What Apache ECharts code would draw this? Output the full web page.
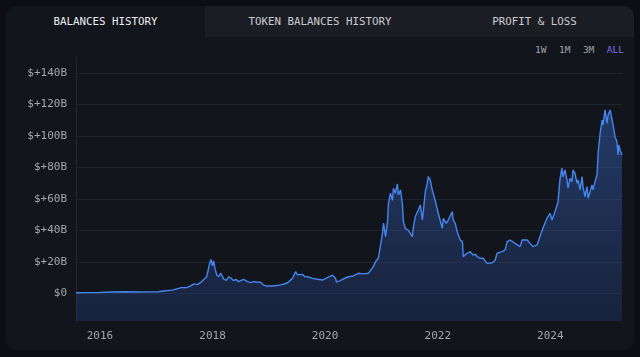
<!DOCTYPE html>
<html>
<head>
<meta charset="utf-8">
<script src="https://cdn.jsdelivr.net/npm/echarts@6/dist/echarts.min.js"></script>
<style>
  html, body { margin:0; padding:0; width:640px; height:357px; background:#0c0e14; overflow:hidden; }
  #card { position:absolute; left:6px; top:6px; width:628px; height:344px; background:#13151c; border-radius:10px; overflow:hidden; }
  .tabs { position:absolute; left:0; top:0; width:628px; height:31px; display:flex; }
  .tab { height:31px; line-height:31px; text-align:center; font-family:"DejaVu Sans Mono", monospace; font-size:10.8px; color:#c9cbd0; background:#1b1d23; }
  .tab.active { background:#13151c; color:#eceef1; }
  .ranges { position:absolute; top:38px; right:10px; font-family:"DejaVu Sans Mono", monospace; font-size:9.5px; color:#a0a2aa; }
  .ranges span { margin-left:12.5px; }
  .ranges span.on { color:#7d6ff0; }
  #chart { position:absolute; left:0; top:0; width:640px; height:357px; }
</style>
</head>
<body>
<div id="card">
  <div class="tabs">
    <div class="tab active" style="width:199px">BALANCES HISTORY</div>
    <div class="tab" style="width:230px">TOKEN BALANCES HISTORY</div>
    <div class="tab" style="width:199px">PROFIT &amp; LOSS</div>
  </div>
  <div class="ranges"><span>1W</span><span>1M</span><span>3M</span><span class="on">ALL</span></div>
</div>
<div id="chart"></div>
<script>
// ---- data (values in billions USD) ----
const dates = [
 '2015-07-30','2015-10-01','2016-01-01','2016-03-15','2016-06-15','2016-09-01','2016-11-25','2017-01-15','2017-03-03','2017-04-15',
 '2017-05-14','2017-06-12','2017-07-17','2017-08-10','2017-09-01','2017-09-25','2017-10-23','2017-11-24','2017-12-14','2017-12-22',
 '2017-12-30','2018-01-08','2018-01-16','2018-01-28','2018-02-10','2018-02-23','2018-03-14','2018-04-01','2018-04-15','2018-05-01',
 '2018-05-18','2018-06-01','2018-06-19','2018-07-21','2018-08-16','2018-09-05','2018-09-24','2018-10-15','2018-11-08','2018-11-27',
 '2018-12-15','2019-01-25','2019-02-20','2019-03-18','2019-04-10','2019-05-02','2019-05-20','2019-06-04','2019-06-23','2019-07-05',
 '2019-07-12','2019-08-07','2019-08-25','2019-09-09','2019-10-11','2019-11-12','2019-12-14','2020-01-23','2020-02-18','2020-03-08',
 '2020-03-16','2020-04-23','2020-06-01','2020-07-03','2020-08-04','2020-09-06','2020-10-08','2020-11-09','2020-11-23','2020-12-12',
 '2021-01-07','2021-01-14','2021-01-27','2021-02-09','2021-02-15','2021-02-28','2021-03-13','2021-03-19','2021-04-01','2021-04-14',
 '2021-04-20','2021-05-04','2021-05-16','2021-05-23','2021-06-05','2021-06-24','2021-07-20','2021-07-26','2021-08-08','2021-08-28',
 '2021-09-10','2021-09-23','2021-09-29','2021-10-12','2021-10-25','2021-10-31','2021-11-13','2021-11-26','2021-12-15','2022-01-04',
 '2022-01-30','2022-02-06','2022-02-25','2022-03-10','2022-04-05','2022-04-11','2022-04-24','2022-05-07','2022-05-26','2022-06-10',
 '2022-06-15','2022-06-28','2022-07-11','2022-07-30','2022-08-18','2022-09-01','2022-09-14','2022-10-03','2022-10-22','2022-11-17',
 '2022-12-20','2023-01-08','2023-01-21','2023-02-22','2023-03-14','2023-03-27','2023-04-15','2023-05-18','2023-06-19','2023-07-02',
 '2023-08-04','2023-08-23','2023-09-11','2023-10-07','2023-10-26','2023-11-14','2023-12-10','2023-12-30','2024-01-12','2024-01-31',
 '2024-02-20','2024-03-03','2024-03-16','2024-03-23','2024-04-05','2024-04-18','2024-04-25','2024-05-08','2024-05-21','2024-05-27',
 '2024-06-09','2024-06-22','2024-06-29','2024-07-12','2024-07-25','2024-07-31','2024-08-13','2024-08-26','2024-09-02','2024-09-15',
 '2024-09-27','2024-10-04','2024-10-17','2024-10-30','2024-11-06','2024-11-19','2024-12-02','2024-12-08','2024-12-21','2025-01-03',
 '2025-01-10','2025-01-23','2025-02-05','2025-02-11','2025-02-24','2025-03-08','2025-03-15','2025-03-21','2025-03-28','2025-04-10'
];
const balancesB = [
 0.3,0.4,0.5,0.8,1.0,0.8,0.9,1.0,1.6,2.0,
 2.8,3.6,3.6,4.5,6.0,5.5,7.4,10.5,19.5,21.5,
 17.5,20.5,16.0,11.6,10.5,12.9,9.0,8.2,10.5,9.5,
 8.0,8.8,7.4,8.9,7.4,6.8,7.4,7.2,7.0,5.3,
 4.6,4.6,4.9,5.3,5.9,6.7,8.2,9.5,13.7,11.8,
 12.3,12.0,10.4,10.5,9.5,8.9,8.4,10.2,11.5,9.5,
 7.0,8.9,10.5,11.0,12.7,12.3,12.7,16.9,20.0,22.4,
 38.0,44.6,36.0,45.5,57.0,63.5,59.0,66.7,63.5,69.4,
 62.4,65.6,57.0,45.5,41.0,40.0,36.0,41.5,48.6,52.9,
 56.0,46.5,51.8,64.5,69.9,74.0,72.0,65.6,59.0,50.8,
 41.3,47.6,44.4,46.5,51.8,46.5,44.4,39.0,33.8,32.8,
 23.2,24.5,25.4,26.4,24.3,24.8,23.2,22.2,22.2,19.0,
 19.4,21.0,25.4,26.4,27.5,32.8,33.8,31.7,29.6,33.8,
 33.8,31.7,29.6,30.7,36.0,41.3,47.6,50.8,46.5,51.8,
 58.0,72.0,79.4,74.0,78.3,72.0,66.7,73.0,70.9,78.3,
 76.2,69.9,72.0,65.6,74.0,67.7,61.3,67.7,60.3,64.5,
 68.8,65.6,70.9,75.1,88.9,101.6,110.0,106.9,116.4,108.0,
 113.2,116.4,110.0,106.9,99.4,96.3,87.8,94.2,91.0,87.8
];
const yTicksB = [0, 20, 40, 60, 80, 100, 120, 140];
const xTickYears = [2016, 2018, 2020, 2022, 2024];

const seriesData = dates.map((d, i) => [d, balancesB[i] * 1e9]);
const mono = '"DejaVu Sans Mono", monospace';
const YEAR_MS = 365.25 * 24 * 3600 * 1000;

const chart = echarts.init(document.getElementById('chart'), null, { renderer: 'canvas' });
chart.setOption({
  backgroundColor: 'transparent',
  animation: false,
  grid: { left: 76, right: 18, top: 57, bottom: 36, containLabel: false },
  xAxis: {
    type: 'time',
    min: dates[0],
    max: dates[dates.length - 1],
    minInterval: YEAR_MS,
    maxInterval: YEAR_MS,
    axisLine: { show: false },
    axisTick: { show: false },
    splitLine: { show: false },
    axisLabel: {
      showMinLabel: false,
      showMaxLabel: false,
      hideOverlap: false,
      interval: 0,
      formatter: function (v) {
        const d = new Date(v);
        const y = d.getFullYear();
        if (d.getMonth() === 0 && d.getDate() === 1 && xTickYears.indexOf(y) >= 0) return String(y);
        return '';
      },
      color: '#a3a6ad', fontFamily: mono, fontSize: 11, margin: 10
    }
  },
  yAxis: {
    type: 'value',
    min: -17.6e9,
    max: 150e9,
    axisLine: { show: true, lineStyle: { color: '#242833' } },
    axisTick: { show: false, customValues: yTicksB.map(v => v * 1e9) },
    splitLine: { show: true, lineStyle: { color: '#1f232d', width: 1 } },
    axisLabel: {
      customValues: yTicksB.map(v => v * 1e9),
      formatter: v => v === 0 ? '$0' : '$+' + Math.round(v / 1e9) + 'B',
      color: '#a3a6ad', fontFamily: mono, fontSize: 11, margin: 9
    }
  },
  series: [{
    type: 'line',
    data: seriesData,
    showSymbol: false,
    smooth: false,
    lineStyle: { color: '#4486ee', width: 1.4 },
    areaStyle: {
      origin: 'start',
      color: new echarts.graphic.LinearGradient(0, 0, 0, 1, [
        { offset: 0, color: 'rgba(58,108,205,0.62)' },
        { offset: 1, color: 'rgba(34,58,112,0.55)' }
      ])
    }
  }]
});
</script>
</body>
</html>
